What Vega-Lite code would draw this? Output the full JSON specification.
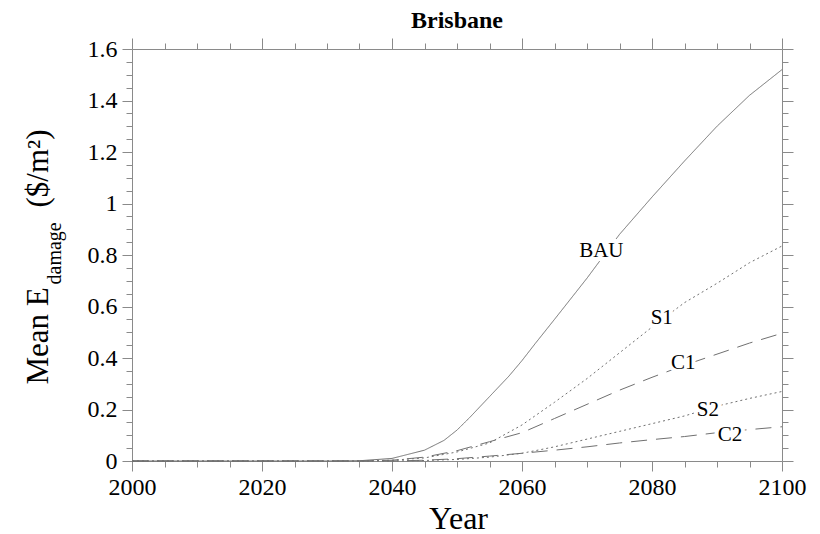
{
  "$schema": "https://vega.github.io/schema/vega-lite/v6.json",
  "width": 650,
  "height": 412,
  "autosize": {"type": "none"},
  "padding": {"left": 132, "top": 49, "right": 38, "bottom": 73},
  "background": "white",
  "title": {"text": "Brisbane", "font": "Liberation Serif", "fontSize": 24, "fontWeight": "bold", "color": "black", "anchor": "middle", "baseline": "alphabetic", "offset": 11, "dy": 26},
  "config": {
    "view": {"stroke": null},
    "axis": {
      "labelFont": "Liberation Serif", "labelFontSize": 24, "labelColor": "black",
      "domainColor": "#8a8a8a", "tickColor": "#8a8a8a", "grid": false,
      "titleFont": "Liberation Serif", "titleColor": "black", "titleFontWeight": "normal"
    }
  },
  "datasets": {
    "lines": [
      {"year": 2000, "series": "BAU", "value": 0}, {"year": 2005, "series": "BAU", "value": 0}, {"year": 2010, "series": "BAU", "value": 0}, {"year": 2015, "series": "BAU", "value": 0}, {"year": 2020, "series": "BAU", "value": 0}, {"year": 2025, "series": "BAU", "value": 0}, {"year": 2030, "series": "BAU", "value": 0}, {"year": 2035, "series": "BAU", "value": 0.001}, {"year": 2040, "series": "BAU", "value": 0.01}, {"year": 2045, "series": "BAU", "value": 0.042}, {"year": 2048, "series": "BAU", "value": 0.08}, {"year": 2050, "series": "BAU", "value": 0.12}, {"year": 2052, "series": "BAU", "value": 0.17}, {"year": 2055, "series": "BAU", "value": 0.25}, {"year": 2058, "series": "BAU", "value": 0.33}, {"year": 2060, "series": "BAU", "value": 0.39}, {"year": 2062, "series": "BAU", "value": 0.455}, {"year": 2065, "series": "BAU", "value": 0.55}, {"year": 2070, "series": "BAU", "value": 0.71}, {"year": 2075, "series": "BAU", "value": 0.88}, {"year": 2080, "series": "BAU", "value": 1.025}, {"year": 2085, "series": "BAU", "value": 1.165}, {"year": 2090, "series": "BAU", "value": 1.3}, {"year": 2095, "series": "BAU", "value": 1.42}, {"year": 2100, "series": "BAU", "value": 1.52},
      {"year": 2000, "series": "S1", "value": 0}, {"year": 2035, "series": "S1", "value": 0}, {"year": 2040, "series": "S1", "value": 0.003}, {"year": 2045, "series": "S1", "value": 0.012}, {"year": 2050, "series": "S1", "value": 0.035}, {"year": 2055, "series": "S1", "value": 0.07}, {"year": 2060, "series": "S1", "value": 0.14}, {"year": 2065, "series": "S1", "value": 0.228}, {"year": 2070, "series": "S1", "value": 0.32}, {"year": 2075, "series": "S1", "value": 0.42}, {"year": 2080, "series": "S1", "value": 0.52}, {"year": 2085, "series": "S1", "value": 0.615}, {"year": 2090, "series": "S1", "value": 0.69}, {"year": 2095, "series": "S1", "value": 0.77}, {"year": 2100, "series": "S1", "value": 0.835},
      {"year": 2000, "series": "C1", "value": 0}, {"year": 2035, "series": "C1", "value": 0}, {"year": 2040, "series": "C1", "value": 0.003}, {"year": 2045, "series": "C1", "value": 0.015}, {"year": 2050, "series": "C1", "value": 0.04}, {"year": 2055, "series": "C1", "value": 0.075}, {"year": 2060, "series": "C1", "value": 0.11}, {"year": 2065, "series": "C1", "value": 0.165}, {"year": 2070, "series": "C1", "value": 0.22}, {"year": 2075, "series": "C1", "value": 0.275}, {"year": 2080, "series": "C1", "value": 0.325}, {"year": 2085, "series": "C1", "value": 0.372}, {"year": 2090, "series": "C1", "value": 0.415}, {"year": 2095, "series": "C1", "value": 0.458}, {"year": 2100, "series": "C1", "value": 0.496},
      {"year": 2000, "series": "S2", "value": 0}, {"year": 2040, "series": "S2", "value": 0}, {"year": 2045, "series": "S2", "value": 0.002}, {"year": 2050, "series": "S2", "value": 0.006}, {"year": 2055, "series": "S2", "value": 0.015}, {"year": 2060, "series": "S2", "value": 0.03}, {"year": 2065, "series": "S2", "value": 0.055}, {"year": 2070, "series": "S2", "value": 0.085}, {"year": 2075, "series": "S2", "value": 0.115}, {"year": 2080, "series": "S2", "value": 0.145}, {"year": 2085, "series": "S2", "value": 0.175}, {"year": 2090, "series": "S2", "value": 0.213}, {"year": 2095, "series": "S2", "value": 0.243}, {"year": 2100, "series": "S2", "value": 0.27},
      {"year": 2000, "series": "C2", "value": 0}, {"year": 2040, "series": "C2", "value": 0}, {"year": 2045, "series": "C2", "value": 0.003}, {"year": 2050, "series": "C2", "value": 0.009}, {"year": 2055, "series": "C2", "value": 0.019}, {"year": 2060, "series": "C2", "value": 0.03}, {"year": 2065, "series": "C2", "value": 0.042}, {"year": 2070, "series": "C2", "value": 0.055}, {"year": 2075, "series": "C2", "value": 0.07}, {"year": 2080, "series": "C2", "value": 0.083}, {"year": 2085, "series": "C2", "value": 0.095}, {"year": 2090, "series": "C2", "value": 0.11}, {"year": 2095, "series": "C2", "value": 0.122}, {"year": 2100, "series": "C2", "value": 0.133}
    ],
    "labels": [
      {"label": "BAU", "year": 2072.2, "value": 0.793},
      {"label": "S1", "year": 2081.5, "value": 0.532},
      {"label": "C1", "year": 2084.8, "value": 0.356},
      {"label": "S2", "year": 2088.6, "value": 0.175},
      {"label": "C2", "year": 2092, "value": 0.078}
    ]
  },
  "layer": [
    {
      "data": {"name": "lines"},
      "mark": {"type": "line", "color": "#707070", "strokeWidth": 1},
      "encoding": {
        "x": {"field": "year", "type": "quantitative", "scale": {"domain": [2000, 2100], "nice": false, "zero": false},
          "axis": {"orient": "bottom", "values": [2000, 2020, 2040, 2060, 2080, 2100], "format": "d", "tickSize": 10, "labelPadding": 4, "labelFlush": false, "labelOverlap": false,
            "title": "Year", "titleFontSize": 32, "titleX": 326, "titleY": 67, "titleBaseline": "alphabetic", "titleAlign": "center"}},
        "y": {"field": "value", "type": "quantitative", "scale": {"domain": [0, 1.6], "nice": false},
          "axis": {"orient": "left", "values": [0, 0.2, 0.4, 0.6, 0.8, 1, 1.2, 1.4, 1.6], "format": "~g", "tickSize": 10, "labelPadding": 5, "labelFlush": false, "labelOverlap": false,
            "title": "Mean E", "titleFontSize": 31, "titleAngle": 270, "titleAlign": "left", "titleBaseline": "alphabetic", "titleX": -85, "titleY": 335}},
        "detail": {"field": "series"},
        "strokeDash": {"field": "series", "type": "nominal", "legend": null,
          "scale": {"domain": ["BAU", "S1", "C1", "S2", "C2"], "range": [[1, 0], [2, 3], [16, 9], [2, 3], [16, 9]]}}
      }
    },
    {
      "data": {"name": "labels"},
      "mark": {"type": "text", "font": "Liberation Serif", "fontSize": 21, "align": "center", "baseline": "alphabetic", "fill": "white", "stroke": "white", "strokeWidth": 8},
      "encoding": {
        "x": {"field": "year", "type": "quantitative", "scale": {"domain": [2000, 2100], "nice": false, "zero": false},
          "axis": {"orient": "bottom", "values": [2005, 2010, 2015, 2025, 2030, 2035, 2045, 2050, 2055, 2065, 2070, 2075, 2085, 2090, 2095], "labels": false, "domain": false, "tickSize": 6, "title": null}},
        "y": {"field": "value", "type": "quantitative", "scale": {"domain": [0, 1.6], "nice": false},
          "axis": {"orient": "left", "values": [0.05, 0.1, 0.15, 0.25, 0.3, 0.35, 0.45, 0.5, 0.55, 0.65, 0.7, 0.75, 0.85, 0.9, 0.95, 1.05, 1.1, 1.15, 1.25, 1.3, 1.35, 1.45, 1.5, 1.55], "labels": false, "domain": false, "tickSize": 6,
            "title": "damage", "titleFontSize": 20, "titleAngle": 270, "titleAlign": "left", "titleBaseline": "alphabetic", "titleX": -72, "titleY": 235}},
        "text": {"field": "label"}
      }
    },
    {
      "data": {"name": "labels"},
      "mark": {"type": "text", "font": "Liberation Serif", "fontSize": 21, "align": "center", "baseline": "alphabetic", "color": "black"},
      "encoding": {
        "x": {"field": "year", "type": "quantitative", "scale": {"domain": [2000, 2100], "nice": false, "zero": false},
          "axis": {"orient": "top", "values": [2000, 2020, 2040, 2060, 2080, 2100], "labels": false, "tickSize": 11, "title": null}},
        "y": {"field": "value", "type": "quantitative", "scale": {"domain": [0, 1.6], "nice": false},
          "axis": {"orient": "right", "values": [0, 0.2, 0.4, 0.6, 0.8, 1, 1.2, 1.4, 1.6], "labels": false, "tickSize": 11,
            "title": "($/m²)", "titleFontSize": 31, "titleAngle": 270, "titleAlign": "left", "titleBaseline": "alphabetic", "titleX": -735, "titleY": 158}},
        "text": {"field": "label"}
      }
    },
    {
      "data": {"name": "lines"},
      "mark": {"type": "line", "opacity": 0},
      "encoding": {
        "x": {"field": "year", "type": "quantitative", "scale": {"domain": [2000, 2100], "nice": false, "zero": false},
          "axis": {"orient": "top", "values": [2005, 2010, 2015, 2025, 2030, 2035, 2045, 2050, 2055, 2065, 2070, 2075, 2085, 2090, 2095], "labels": false, "domain": false, "tickSize": 6, "title": null}},
        "y": {"field": "value", "type": "quantitative", "scale": {"domain": [0, 1.6], "nice": false},
          "axis": {"orient": "right", "values": [0.05, 0.1, 0.15, 0.25, 0.3, 0.35, 0.45, 0.5, 0.55, 0.65, 0.7, 0.75, 0.85, 0.9, 0.95, 1.05, 1.1, 1.15, 1.25, 1.3, 1.35, 1.45, 1.5, 1.55], "labels": false, "domain": false, "tickSize": 6, "title": null}},
        "detail": {"field": "series"}
      }
    }
  ],
  "resolve": {"axis": {"x": "independent", "y": "independent"}}
}
